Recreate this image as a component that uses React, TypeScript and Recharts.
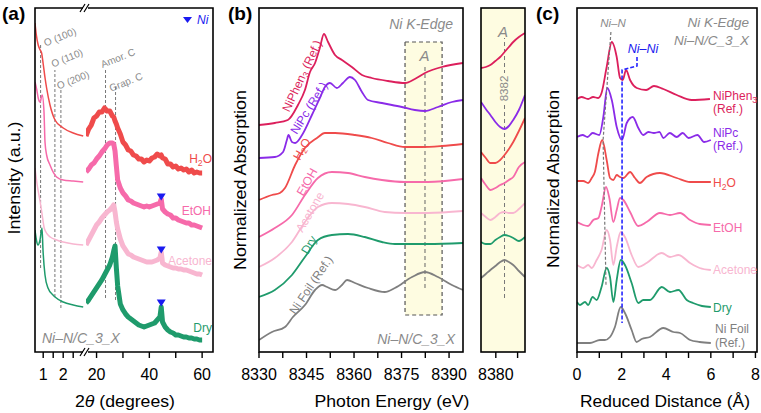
import React from 'react'
import { LineChart, Line, XAxis, YAxis, ReferenceLine, ReferenceArea, ReferenceDot } from 'recharts'

const FONT = '"Liberation Sans", Arial, Helvetica, sans-serif'

const C = {
  phen: '#DC1F5C',
  pc: '#8A2BE8',
  h2o: '#EF4B4B',
  etoh: '#F66AAA',
  acet: '#F8B6D0',
  dry: '#1F9B6C',
  foil: '#7F7F7F',
  gray: '#8A8A8A',
  blue: '#1A1AF0',
  yellow: '#FEFCE1',
}

// ---------- (a) XRD, low-angle part (2θ, degrees) ----------
const h2oLowTheta = [0.59, 0.65, 0.75, 0.85, 0.92, 1.0, 1.1, 1.17, 1.34, 1.59, 2.0, 2.5, 3.0]
const h2oLowI = [329, 318, 307, 302, 299, 288, 273, 264, 247, 232, 224, 219, 216]
const etohLowTheta = [0.59, 0.68, 0.75, 0.84, 0.95, 1.04, 1.09, 1.17, 1.34, 1.67, 2.0, 2.5, 3.0]
const etohLowI = [270, 262, 254, 250, 257, 240, 210, 197, 187, 175, 172, 171, 170]
const acetLowTheta = [0.59, 0.7, 0.85, 0.95, 1.05, 1.2, 1.35, 1.67, 2.0, 2.5, 3.0]
const acetLowI = [184, 167, 150, 137, 124, 118, 115, 112, 110, 108, 107]
const dryLowTheta = [0.59, 0.66, 0.74, 0.84, 0.94, 0.99, 1.09, 1.24, 1.49, 1.59, 2.0, 2.5, 3.0]
const dryLowI = [122, 112, 107, 112, 124, 102, 77, 64, 57, 55, 50, 47, 45]

// ---------- (a) XRD, wide-angle part ----------
const highTheta = [16, 17, 18, 19, 20, 21, 22, 23, 24, 25, 26, 26.5, 27, 27.5, 28, 29, 30, 31, 32, 33, 34, 35, 36, 37, 38, 39, 40, 41, 42, 43, 44, 44.5, 45, 46, 47, 48, 49, 50, 51, 52, 53, 54, 55, 56, 57, 58, 59, 60]
const h2oHighI = [216, 223, 227, 234, 236, 240, 240, 244, 241, 241, 236, 235, 231, 228, 224, 218, 210, 207, 202, 201, 197, 196, 193, 193, 190, 192, 191, 194, 195, 198, 196, 197, 194, 193, 188, 188, 185, 186, 183, 184, 182, 183, 180, 182, 179, 180, 179, 179]
const etohHighI = [180, 183, 187, 189, 193, 196, 200, 203, 207, 209, 209, 208, 201, 186, 172, 164, 159, 156, 152, 151, 149, 148, 147, 146, 145, 146, 145, 146, 147, 148, 149, 153, 143, 140, 138, 137, 134, 134, 132, 131, 130, 129, 129, 127, 127, 126, 125, 124]
const acetHighI = [107, 112, 117, 122, 127, 130, 134, 137, 140, 142, 145, 147, 140, 130, 123, 113, 106, 102, 98, 97, 95, 94, 93, 92, 91, 90, 90, 90, 91, 92, 94, 100, 89, 87, 86, 85, 84, 84, 83, 83, 82, 82, 81, 80, 79, 78, 78, 77]
const dryHighI = [49, 52, 56, 60, 64, 68, 72, 77, 82, 87, 95, 101, 106, 84, 66, 48, 42, 38, 35, 33, 31, 29, 27, 26, 25, 26, 27, 28, 29, 32, 35, 45, 30, 25, 22, 20, 19, 17, 17, 16, 15, 15, 14, 14, 13, 13, 12, 12]
const niPeakTheta = 44.5
const niPeakMarks = [155, 102, 49]

// ---------- (b) XANES ----------
const phenE = [8330, 8335, 8339.1, 8342.3, 8344.5, 8346.1, 8347.7, 8349.2, 8350.5, 8351.8, 8354, 8356.2, 8359.3, 8362.5, 8365.6, 8370.7, 8376.1, 8379.2, 8382.4, 8387.7, 8394.4]
const phenMu = [227, 229, 232, 247, 262, 280, 289, 304, 318, 310, 297, 292, 285, 277, 274, 271, 269, 273, 279, 285, 289]
const pcE = [8330, 8335, 8337.6, 8338.8, 8339.3, 8340.4, 8341.4, 8343.6, 8346.7, 8349.2, 8350.8, 8352.4, 8354.6, 8356.5, 8358.7, 8360.3, 8362.5, 8364.4, 8368.8, 8375.1, 8379.2, 8382.4, 8386.5, 8390.9, 8394.4]
const pcMu = [194, 195, 200, 212, 217, 210, 209, 217, 237, 254, 265, 269, 264, 269, 275, 272, 260, 252, 249, 245, 242, 241, 245, 250, 252]
const h2oE = [8330, 8334.1, 8336.6, 8338.2, 8341.4, 8344.5, 8348.3, 8350.8, 8354, 8360.3, 8365.6, 8370.7, 8376.1, 8381.4, 8387.7, 8394.4]
const h2oMu = [152, 157, 159, 164, 187, 204, 214, 219, 219, 217, 214, 209, 205, 205, 206, 208]
const etohE = [8330, 8335, 8340.4, 8344.5, 8348.6, 8353, 8358.1, 8363.4, 8368.8, 8376.1, 8383.3, 8394.4]
const etohMu = [115, 124, 137, 157, 174, 180, 179, 175, 172, 170, 170, 173]
const acetE = [8330, 8335, 8340.4, 8344.5, 8348.6, 8353, 8358.1, 8363.4, 8369.7, 8376.1, 8383.3, 8394.4]
const acetMu = [85, 94, 110, 130, 145, 149, 148, 145, 140, 139, 139, 141]
const dryE = [8330, 8335, 8340.4, 8344.5, 8348.6, 8353, 8358.1, 8363.4, 8368.8, 8372.9, 8376.1, 8383.3, 8394.4]
const dryMu = [55, 62, 77, 95, 112, 117, 118, 115, 110, 108, 108, 108, 109]
const foilE = [8330, 8334.1, 8338.2, 8340.7, 8344.5, 8347.7, 8349.9, 8351.5, 8354, 8356.2, 8357.8, 8360.3, 8364.4, 8369.7, 8372.9, 8378.3, 8382.4, 8386.5, 8390.9, 8394.4]
const foilMu = [12, 20, 25, 35, 47, 62, 67, 65, 62, 67, 72, 69, 64, 60, 64, 75, 80, 75, 67, 62]

// (b) inset, region A magnified
const insetE = [8376.6, 8377.7, 8378.75, 8379.9, 8381, 8382, 8383, 8384, 8385.3, 8386.7]
const phenA = [284, 285, 287, 291, 295, 300, 305, 310, 315, 319]
const pcA = [250, 243, 237, 230, 225, 223, 226, 232, 242, 257]
const h2oA = [200, 194, 189, 189, 192, 197, 203, 210, 221, 234]
const etohA = [174, 167, 162, 164, 167, 169, 172, 175, 185, 190]
const acetA = [139, 135, 132, 135, 139, 140, 139, 139, 143, 149]
const dryA = [110, 108, 108, 112, 115, 117, 116, 114, 111, 115]
const foilA = [74, 78, 82, 86, 90, 92, 90, 87, 81, 75]

// ---------- (c) FT-EXAFS ----------
const phenR = [0, 0.2, 0.5, 0.72, 0.95, 1.1, 1.33, 1.56, 1.78, 1.93, 2.05, 2.2, 2.38, 2.68, 3.1, 3.45, 3.87, 4.47, 5.14, 5.96]
const phenFT = [253, 255, 253, 255, 254, 259, 285, 310, 295, 274, 272, 282, 272, 264, 262, 266, 263, 257, 252, 253]
const pcR = [0, 0.25, 0.47, 0.7, 1.0, 1.18, 1.36, 1.56, 1.78, 2.02, 2.23, 2.5, 2.75, 2.97, 3.2, 3.45, 3.7, 3.87, 4.16, 4.47, 4.74, 5.0, 5.4, 5.7, 6.0]
const pcFT = [215, 217, 215, 219, 217, 235, 264, 252, 225, 212, 229, 235, 224, 217, 220, 219, 220, 214, 219, 215, 219, 214, 217, 210, 212]
const h2oR = [0, 0.28, 0.5, 0.66, 0.8, 0.96, 1.13, 1.33, 1.48, 1.63, 1.78, 1.93, 2.08, 2.38, 2.6, 2.82, 3.12, 3.72, 4.47, 5.07, 6.0]
const h2oFT = [171, 171, 169, 174, 180, 199, 212, 192, 174, 172, 177, 175, 174, 180, 174, 169, 175, 179, 174, 170, 170]
const etohR = [0, 0.28, 0.5, 0.73, 0.96, 1.1, 1.3, 1.45, 1.63, 1.78, 1.93, 2.08, 2.38, 2.75, 3.12, 3.72, 4.17, 4.62, 5.07, 5.5, 6.0]
const etohFT = [130, 127, 126, 132, 134, 145, 165, 154, 130, 142, 154, 152, 140, 126, 130, 139, 137, 139, 132, 128, 127]
const acetR = [0, 0.28, 0.5, 0.66, 0.88, 1.1, 1.33, 1.48, 1.63, 1.78, 1.96, 2.15, 2.45, 2.75, 3.12, 3.8, 4.17, 4.55, 5.07, 5.5, 6.0]
const acetFT = [87, 84, 87, 84, 92, 102, 122, 112, 87, 105, 120, 115, 97, 85, 89, 99, 95, 97, 89, 84, 82]
const dryR = [0, 0.13, 0.36, 0.5, 0.7, 0.88, 1.1, 1.33, 1.48, 1.63, 1.78, 1.96, 2.15, 2.45, 2.75, 2.97, 3.27, 3.8, 4.17, 4.55, 4.92, 5.2, 5.6, 6.0]
const dryFT = [50, 47, 50, 47, 55, 52, 65, 84, 75, 50, 72, 92, 87, 69, 49, 52, 52, 65, 60, 62, 52, 49, 46, 45]
const foilR = [0, 0.58, 1.03, 1.25, 1.48, 1.7, 1.96, 2.15, 2.45, 2.67, 2.9, 3.27, 3.87, 4.32, 4.62, 5.07, 5.5, 6.0]
const foilFT = [9, 9, 12, 12, 15, 25, 45, 39, 22, 10, 13, 15, 24, 20, 19, 12, 10, 9]
const niNGuideR = [1.52, 1.17, 1.3]
const niNGuideY = [320, 212, 67]
const niNiGuideR = [2.69, 2.69, 2.02, 2.02]
const niNiGuideY = [295, 286, 282, 29]

const pts = (xs: number[], ys: number[]) => xs.map((x, i) => ({ x, y: ys[i] }))

const PAD = 30

function Panel({ left, width, domain, ticks, labels, children }: any) {
  return (
    <div style={{ position: 'absolute', left: left - PAD, top: 8 }}>
      <LineChart width={width + 2 * PAD} height={374} margin={{ top: 0, right: PAD, bottom: 0, left: PAD }}>
        <XAxis
          type="number"
          dataKey="x"
          domain={domain}
          ticks={ticks}
          interval={0}
          allowDataOverflow
          axisLine={false}
          height={30}
          tickSize={6}
          tickMargin={11}
          tickLine={{ stroke: '#000', strokeWidth: 1.4 }}
          tick={{ fontSize: 16, fill: '#000', fontFamily: FONT }}
          tickFormatter={(v: number) => (labels.includes(v) ? String(v) : '')}
        />
        <YAxis type="number" hide domain={[0, 344]} allowDataOverflow />
        {children}
      </LineChart>
    </div>
  )
}

const line = (key: string, xs: number[], ys: number[], color: string, w = 1.8, curve: any = 'monotone') => (
  <Line key={key} data={pts(xs, ys)} dataKey="y" type={curve} stroke={color} strokeWidth={w} dot={false} isAnimationActive={false} strokeLinejoin="round" />
)

const triangle = (p: any) => (
  <path d={`M${p.cx - 4.5},${p.cy - 3.5} L${p.cx + 4.5},${p.cy - 3.5} L${p.cx},${p.cy + 3.5} Z`} fill={C.blue} />
)

function Rot({ x, y, a, children, ...rest }: any) {
  return (
    <text transform={`translate(${x},${y}) rotate(${a})`} textAnchor="middle" dominantBaseline="central" {...rest}>
      {children}
    </text>
  )
}

// chemical label with one subscript digit, e.g. H2O, NiPhen3 (Ref.)
const chem = (head: string, digit: string, tail: string) => (
  <>
    {head}
    <tspan fontSize="0.72em" dy={3}>{digit}</tspan>
    {tail ? <tspan dy={-3}>{tail}</tspan> : null}
  </>
)

export default function App() {
  return (
    <div style={{ position: 'relative', width: 761, height: 413, overflow: 'hidden', background: '#fff', fontFamily: FONT }}>
      <style>{'body{margin:0}'}</style>

      {/* (a) low angle */}
      <Panel left={35} width={49} domain={[0.59, 3.04]} ticks={[1, 1.5, 2, 2.5]} labels={[1, 2]}>
        <ReferenceLine segment={[{ x: 0.87, y: 84 }, { x: 0.87, y: 307 }]} stroke="#777" strokeDasharray="3 2" />
        <ReferenceLine segment={[{ x: 1.585, y: 55 }, { x: 1.585, y: 282 }]} stroke="#777" strokeDasharray="3 2" />
        <ReferenceLine segment={[{ x: 1.885, y: 44 }, { x: 1.885, y: 262 }]} stroke="#777" strokeDasharray="3 2" />
        {line('h2oL', h2oLowTheta, h2oLowI, C.h2o, 1.5)}
        {line('etohL', etohLowTheta, etohLowI, C.etoh, 1.5)}
        {line('acetL', acetLowTheta, acetLowI, C.acet, 1.5)}
        {line('dryL', dryLowTheta, dryLowI, C.dry, 1.5)}
      </Panel>

      {/* (a) wide angle */}
      <Panel left={86.1} width={126.7} domain={[16, 64]} ticks={[20, 30, 40, 50, 60]} labels={[20, 40, 60]}>
        <ReferenceLine segment={[{ x: 23.4, y: 54 }, { x: 23.4, y: 282 }]} stroke="#777" strokeDasharray="3 2" />
        <ReferenceLine segment={[{ x: 27.2, y: 52 }, { x: 27.2, y: 265 }]} stroke="#777" strokeDasharray="3 2" />
        {line('h2oH', highTheta, h2oHighI, C.h2o, 5, 'linear')}
        {line('etohH', highTheta, etohHighI, C.etoh, 5, 'linear')}
        {line('acetH', highTheta, acetHighI, C.acet, 5, 'linear')}
        {line('dryH', highTheta, dryHighI, C.dry, 5, 'linear')}
        {niPeakMarks.map((y, i) => (
          <ReferenceDot key={i} x={niPeakTheta} y={y} r={4} shape={triangle} />
        ))}
      </Panel>

      {/* (b) XANES */}
      <Panel left={259} width={204} domain={[8330, 8394.4]} ticks={[8330, 8337.5, 8345, 8352.5, 8360, 8367.5, 8375, 8382.5, 8390]} labels={[8330, 8345, 8360, 8375, 8390]}>
        <ReferenceArea x1={8376.1} x2={8387.8} y1={37} y2={310} fill={C.yellow} fillOpacity={1} stroke="#555" strokeDasharray="4 3" strokeWidth={1.2} />
        <ReferenceLine segment={[{ x: 8382.4, y: 64 }, { x: 8382.4, y: 287 }]} stroke="#666" strokeDasharray="4 3" />
        {line('phen', phenE, phenMu, C.phen)}
        {line('pc', pcE, pcMu, C.pc)}
        {line('h2o', h2oE, h2oMu, C.h2o)}
        {line('etoh', etohE, etohMu, C.etoh)}
        {line('acet', acetE, acetMu, C.acet)}
        {line('dry', dryE, dryMu, C.dry)}
        {line('foil', foilE, foilMu, C.foil)}
      </Panel>

      {/* (b) inset */}
      <div style={{ position: 'absolute', left: 481, top: 8, width: 44, height: 344, background: C.yellow }} />
      <Panel left={481} width={44} domain={[8376.6, 8386.7]} ticks={[8380, 8385]} labels={[8380]}>
        <ReferenceLine segment={[{ x: 8382, y: 54 }, { x: 8382, y: 314 }]} stroke="#777" strokeDasharray="4 3" />
        {line('phenA', insetE, phenA, C.phen)}
        {line('pcA', insetE, pcA, C.pc)}
        {line('h2oA', insetE, h2oA, C.h2o)}
        {line('etohA', insetE, etohA, C.etoh)}
        {line('acetA', insetE, acetA, C.acet)}
        {line('dryA', insetE, dryA, C.dry)}
        {line('foilA', insetE, foilA, C.foil)}
      </Panel>

      {/* (c) FT-EXAFS */}
      <Panel left={577} width={180} domain={[0, 8.07]} ticks={[0, 1, 2, 3, 4, 5, 6, 7, 8]} labels={[0, 2, 4, 6, 8]}>
        {line('phenC', phenR, phenFT, C.phen)}
        {line('pcC', pcR, pcFT, C.pc)}
        {line('h2oC', h2oR, h2oFT, C.h2o)}
        {line('etohC', etohR, etohFT, C.etoh)}
        {line('acetC', acetR, acetFT, C.acet)}
        {line('dryC', dryR, dryFT, C.dry)}
        {line('foilC', foilR, foilFT, C.foil)}
        <Line data={pts(niNGuideR, niNGuideY)} dataKey="y" type="linear" stroke="#777" strokeWidth={1.2} strokeDasharray="3 2" dot={false} isAnimationActive={false} />
        <Line data={pts(niNiGuideR, niNiGuideY)} dataKey="y" type="linear" stroke="#2626FF" strokeWidth={1.6} strokeDasharray="4 2" dot={false} isAnimationActive={false} />
      </Panel>

      <svg width={761} height={413} style={{ position: 'absolute', left: 0, top: 0, pointerEvents: 'none' }} fontFamily={FONT}>
        {/* frames */}
        <g fill="none" stroke="#000" strokeWidth={1.6}>
          <path d="M83,8 H35 V352 H83" />
          <path d="M88,8 H213 V352 H88" />
          <path d="M80,12 L85,4 M84,12 L89,4 M80,356 L85,348 M84,356 L89,348" strokeWidth={1.2} />
          <rect x={259} y={8} width={204} height={344} />
          <rect x={481} y={8} width={44} height={344} />
          <rect x={577} y={8} width={180} height={344} />
        </g>

        {/* panel letters */}
        <g fontSize={19} fontWeight="bold" fill="#000">
          <text x={2} y={20}>(a)</text>
          <text x={228} y={20}>(b)</text>
          <text x={536} y={20}>(c)</text>
        </g>

        {/* axis titles */}
        <g fontSize={17} fill="#000">
          <text x={125} y={407} textAnchor="middle" textLength={100} lengthAdjust="spacingAndGlyphs">
            2<tspan fontStyle="italic">θ</tspan> (degrees)
          </text>
          <text x={392} y={407} textAnchor="middle" textLength={155} lengthAdjust="spacingAndGlyphs">Photon Energy (eV)</text>
          <text x={665} y={407} textAnchor="middle" textLength={170} lengthAdjust="spacingAndGlyphs">Reduced Distance (Å)</text>
          <Rot x={14} y={178} a={-90} textLength={113} lengthAdjust="spacingAndGlyphs">Intensity (a.u.)</Rot>
          <Rot x={240} y={180} a={-90} textLength={180} lengthAdjust="spacingAndGlyphs">Normalized Absorption</Rot>
          <Rot x={553} y={179} a={-90} textLength={178} lengthAdjust="spacingAndGlyphs">Normalized Absorption</Rot>
        </g>

        {/* (a) annotations */}
        <g fontSize={10} fill={C.gray}>
          <Rot x={60} y={37} a={-22}>O (100)</Rot>
          <Rot x={67} y={58} a={-22}>O (110)</Rot>
          <Rot x={73} y={80} a={-22}>O (200)</Rot>
          <Rot x={118} y={58} a={-22}>Amor. C</Rot>
          <Rot x={126} y={82} a={-22}>Grap. C</Rot>
        </g>
        <path d="M183,17 L192,17 L187.5,23 Z" fill={C.blue} />
        <text x={197} y={24} fontSize={12} fontStyle="italic" fill={C.blue}>Ni</text>
        <text x={42} y={343} fontSize={14} fontStyle="italic" fill={C.gray}>Ni–N/C_3_X</text>
        <g fontSize={12} textAnchor="end">
          <text x={212} y={163} fill={C.h2o}>{chem('H', '2', 'O')}</text>
          <text x={211} y={215} fill={C.etoh}>EtOH</text>
          <text x={212} y={265} fill={C.acet}>Acetone</text>
          <text x={212} y={332} fill={C.dry}>Dry</text>
        </g>

        {/* (b) annotations */}
        <text x={453} y={29} fontSize={14} fontStyle="italic" fill={C.gray} textAnchor="end">Ni K-Edge</text>
        <text x={455} y={344} fontSize={14} fontStyle="italic" fill={C.gray} textAnchor="end">Ni–N/C_3_X</text>
        <text x={424.5} y={61} fontSize={15} fontStyle="italic" fill={C.gray} textAnchor="middle">A</text>
        <text x={503} y={36.5} fontSize={15} fontStyle="italic" fill={C.gray} textAnchor="middle">A</text>
        <rect x={498} y={73} width={11} height={31} fill={C.yellow} />
        <Rot x={503.5} y={88.5} a={-90} fontSize={11.5} fill={C.gray}>8382</Rot>
        <g fontSize={12}>
          <Rot x={302} y={76} a={-65} fill={C.phen}>{chem('NiPhen', '3', ' (Ref.)')}</Rot>
          <Rot x={309} y={108} a={-58} fill={C.pc}>NiPc (Ref.)</Rot>
          <Rot x={302} y={149} a={-60} fill={C.h2o}>{chem('H', '2', 'O')}</Rot>
          <Rot x={307} y={182} a={-60} fill={C.etoh}>EtOH</Rot>
          <Rot x={310} y={212} a={-60} fill={C.acet}>Acetone</Rot>
          <Rot x={309} y={245} a={-60} fill={C.dry}>Dry</Rot>
          <Rot x={311} y={285} a={-56} fill={C.foil}>Ni Foil (Ref.)</Rot>
        </g>

        {/* (c) annotations */}
        <text x={749} y={27} fontSize={13.5} fontStyle="italic" fill={C.gray} textAnchor="end">Ni K-Edge</text>
        <text x={749} y={45} fontSize={13.5} fontStyle="italic" fill={C.gray} textAnchor="end">Ni–N/C_3_X</text>
        <text x={613} y={27} fontSize={11.5} fontStyle="italic" fill={C.gray} textAnchor="middle">Ni–N</text>
        <text x={643} y={53} fontSize={12.5} fontStyle="italic" fill={C.blue} textAnchor="middle">Ni–Ni</text>
        <g fontSize={12}>
          <text x={713} y={100} fill={C.phen}>{chem('NiPhen', '3', '')}</text>
          <text x={713} y={113} fill={C.phen}>(Ref.)</text>
          <text x={713} y={137} fill={C.pc}>NiPc</text>
          <text x={713} y={150} fill={C.pc}>(Ref.)</text>
          <text x={713} y={187} fill={C.h2o}>{chem('H', '2', 'O')}</text>
          <text x={713} y={232} fill={C.etoh}>EtOH</text>
          <text x={713} y={274} fill={C.acet}>Acetone</text>
          <text x={713} y={312} fill={C.dry}>Dry</text>
          <text x={715} y={333} fill={C.foil}>Ni Foil</text>
          <text x={715} y={347} fill={C.foil}>(Ref.)</text>
        </g>
      </svg>
    </div>
  )
}
